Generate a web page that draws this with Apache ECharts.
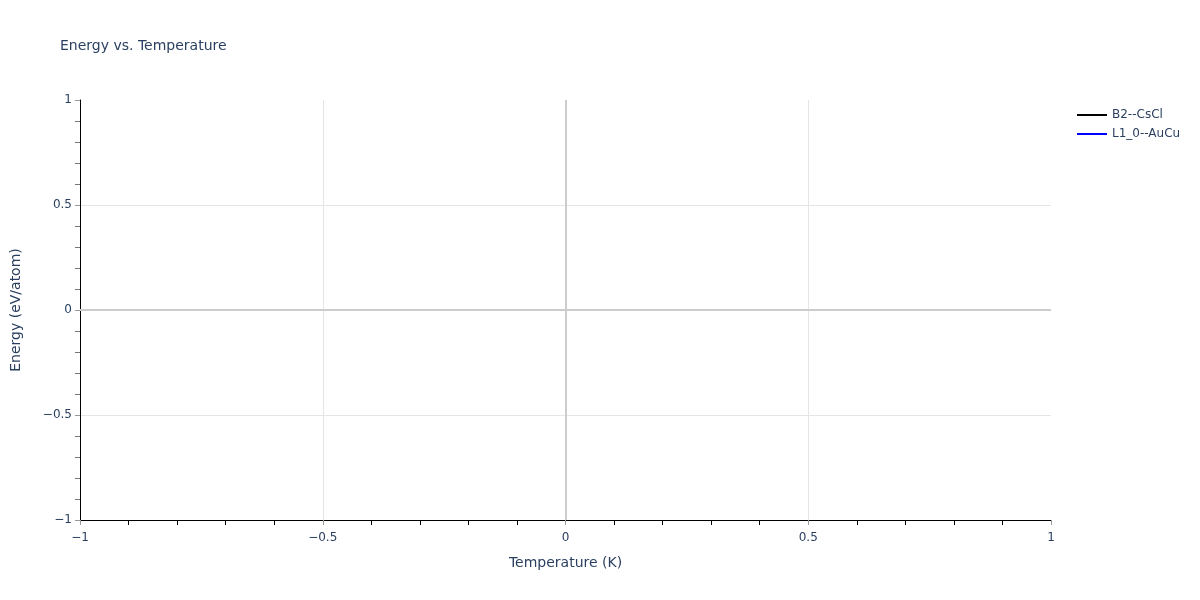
<!DOCTYPE html>
<html>
<head>
<meta charset="utf-8">
<title>Energy vs. Temperature</title>
<script src="https://cdn.jsdelivr.net/npm/echarts@6/dist/echarts.min.js"></script>
<style>
  html, body { margin: 0; padding: 0; background: #fff; }
  #chart { width: 1200px; height: 600px; }
</style>
</head>
<body>
<div id="chart"></div>
<script>
// data (the reference plot is empty: both series carry no points)
const seriesNames = ['B2--CsCl', 'L1_0--AuCu']
const seriesColors = ['#000000', '#0000ff']
const b2Values = []
const l10Values = []
const xRange = [-1, 1]
const yRange = [-1, 1]
const tickStep = 0.5

const textColor = '#2a3f5f'
const font = '"DejaVu Sans", Verdana, sans-serif'

const chart = echarts.init(document.getElementById('chart'))

const axisCommon = {
  type: 'value',
  interval: tickStep,
  nameLocation: 'middle',
  nameTextStyle: { color: textColor, fontSize: 14, fontFamily: font },
  axisLine: { show: true, onZero: false, lineStyle: { color: '#000', width: 1 } },
  axisTick: { show: true, inside: false, length: 5, lineStyle: { color: '#999' } },
  minorTick: { show: true, splitNumber: 5, length: 5 },
  axisLabel: {
    color: textColor, fontSize: 12, fontFamily: font,
    formatter: v => (v < 0 ? '\u2212' + Math.abs(v) : String(v))
  },
  splitLine: {
    show: true, showMinLine: false, showMaxLine: false,
    lineStyle: { color: '#e5e5e5', width: 1 }
  }
}

chart.setOption({
  backgroundColor: '#fff',
  animation: false,
  title: {
    text: 'Energy vs. Temperature',
    left: 55, top: 34,
    textStyle: { color: textColor, fontSize: 14, fontWeight: 'normal', fontFamily: font }
  },
  legend: {
    data: seriesNames,
    orient: 'vertical',
    left: 1072, top: 104,
    itemWidth: 30, itemHeight: 2, itemGap: 7,
    icon: 'rect',
    textStyle: { color: textColor, fontSize: 12, fontFamily: font }
  },
  grid: {
    left: 80, right: 149, top: 100, bottom: 80,
    containLabel: false, outerBoundsMode: 'none'
  },
  xAxis: Object.assign({}, axisCommon, {
    min: xRange[0], max: xRange[1],
    name: 'Temperature (K)', nameGap: 36,
    axisLabel: Object.assign({}, axisCommon.axisLabel, { margin: 12 }),
    minorTick: { show: true, splitNumber: 5, length: 5, lineStyle: { color: '#000' } }
  }),
  yAxis: Object.assign({}, axisCommon, {
    min: yRange[0], max: yRange[1],
    name: 'Energy (eV/atom)', nameGap: 57,
    axisLabel: Object.assign({}, axisCommon.axisLabel, { margin: 8, padding: [3, 0, 0, 0] }),
    minorTick: { show: true, splitNumber: 5, length: 5, lineStyle: { color: '#777' } }
  }),
  series: [
    {
      name: seriesNames[0], type: 'line', data: b2Values,
      color: seriesColors[0], showSymbol: false,
      lineStyle: { width: 2 },
      markLine: {
        silent: true, symbol: 'none', label: { show: false },
        lineStyle: { color: '#cccccc', type: 'solid', width: 2 },
        data: [{ xAxis: 0 }, { yAxis: 0 }]
      }
    },
    {
      name: seriesNames[1], type: 'line', data: l10Values,
      color: seriesColors[1], showSymbol: false,
      lineStyle: { width: 2 }
    }
  ]
})
</script>
</body>
</html>
